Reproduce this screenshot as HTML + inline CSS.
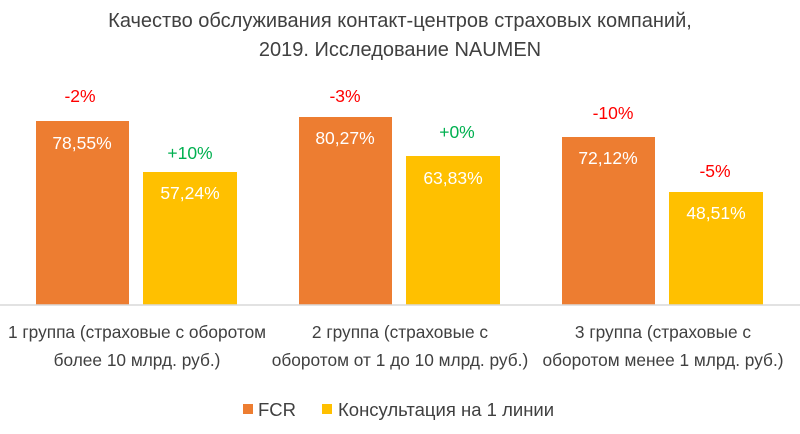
<!DOCTYPE html>
<html><head><meta charset="utf-8"><style>
body{margin:0;width:800px;height:429px;background:#fff;overflow:hidden;font-family:"Liberation Sans","DejaVu Sans",sans-serif;}
svg text{font-family:"Liberation Sans","DejaVu Sans",sans-serif;}
</style></head><body>
<svg width="800" height="429" viewBox="0 0 800 429">
<text x="400" y="27" text-anchor="middle" font-size="20" fill="#404040">Качество обслуживания контакт-центров страховых компаний,</text>
<text x="400" y="56" text-anchor="middle" font-size="20" fill="#404040">2019. Исследование NAUMEN</text>
<g fill="#ed7d31">
<rect x="36" y="121" width="93" height="184"/>
<rect x="299" y="117" width="93" height="188"/>
<rect x="562" y="137" width="93" height="168"/>
</g>
<g fill="#ffc000">
<rect x="143" y="172" width="94" height="133"/>
<rect x="406" y="156" width="94" height="149"/>
<rect x="669" y="192" width="94" height="113"/>
</g>
<line x1="0" y1="305" x2="800" y2="305" stroke="#d9d9d9" stroke-width="1.5"/>
<g font-size="17.5" fill="#fff" text-anchor="middle">
<text x="82" y="149">78,55%</text>
<text x="190" y="199">57,24%</text>
<text x="345" y="144">80,27%</text>
<text x="453" y="184">63,83%</text>
<text x="608" y="164">72,12%</text>
<text x="716" y="219">48,51%</text>
</g>
<g font-size="17.5" text-anchor="middle">
<text x="80" y="102" fill="#ff0000">-2%</text>
<text x="190" y="159" fill="#00b050">+10%</text>
<text x="345" y="102" fill="#ff0000">-3%</text>
<text x="457" y="138" fill="#00b050">+0%</text>
<text x="613" y="119" fill="#ff0000">-10%</text>
<text x="715" y="177" fill="#ff0000">-5%</text>
</g>
<g font-size="17.3" fill="#404040" text-anchor="middle">
<text x="137" y="338">1 группа (страховые с оборотом</text>
<text x="137" y="366">более 10 млрд. руб.)</text>
<text x="400" y="338">2 группа (страховые с</text>
<text x="400" y="366">оборотом от 1 до 10 млрд. руб.)</text>
<text x="663" y="338">3 группа (страховые с</text>
<text x="663" y="366">оборотом менее 1 млрд. руб.)</text>
</g>
<rect x="243" y="404" width="10" height="10" fill="#ed7d31"/>
<text x="258" y="416" font-size="18.5" fill="#404040">FCR</text>
<rect x="322" y="404" width="10" height="10" fill="#ffc000"/>
<text x="338" y="416" font-size="18.5" fill="#404040">Консультация на 1 линии</text>
</svg>
</body></html>
